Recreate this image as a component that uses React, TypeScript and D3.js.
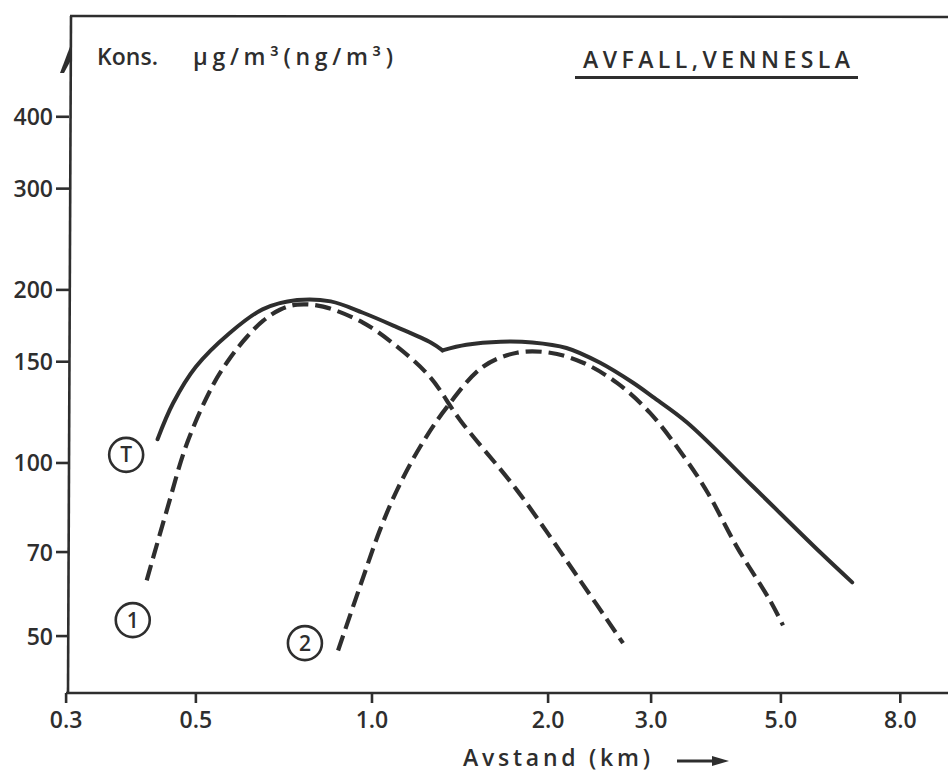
import React from 'react';
import * as d3 from 'd3';

// ---- data (log-log axes) ----
const xTicks = [0.3, 0.5, 1.0, 2.0, 3.0, 5.0, 8.0];
const xTickLabels = ['0.3', '0.5', '1.0', '2.0', '3.0', '5.0', '8.0'];
const yTicks = [50, 70, 100, 150, 200, 300, 400];
const yTickLabels = ['50', '70', '100', '150', '200', '300', '400'];

// Total (T) – solid
const totalX = [0.43, 0.457, 0.50, 0.57, 0.65, 0.745, 0.85, 0.965, 1.10, 1.26, 1.32, 1.45, 1.66, 1.88, 2.15, 2.45, 2.79, 3.02, 3.46, 4.48, 5.83, 6.62];
const totalY = [110, 127, 147, 168, 185, 192, 191, 182.5, 172.5, 162, 157, 160.5, 162.5, 162, 158.5, 149.5, 138, 130.3, 117.5, 91, 70, 62];
const totalKinkIndex = 10;

// Source 1 – dashed
const curve1X = [0.412, 0.446, 0.483, 0.535, 0.572, 0.611, 0.651, 0.696, 0.745, 0.825, 0.965, 1.104, 1.256, 1.414, 1.769, 2.268, 2.686];
const curve1Y = [62.5, 82.8, 108.3, 136.7, 152.2, 165.6, 176.6, 184.7, 188.5, 187, 175.4, 159.3, 141.2, 118.8, 89.7, 62.5, 48.6];

// Source 2 – dashed
const curve2X = [0.875, 0.965, 1.032, 1.104, 1.208, 1.344, 1.548, 1.769, 2.015, 2.295, 2.623, 2.987, 3.428, 3.753, 4.207, 4.789, 5.042];
const curve2Y = [47.2, 63.1, 76.5, 89.8, 106.6, 125.2, 147.0, 155.5, 155.5, 149.4, 137.8, 122.2, 102.0, 88.6, 71.4, 57.7, 52.2];

// circled curve labels
const markLabels = ['T', '1', '2'];
const markX = [0.38, 0.39, 0.768];
const markY = [103.3, 53.3, 48.6];

const titleText = 'AVFALL,VENNESLA';
const yUnitA = 'Kons.';
const yUnitB = 'μg/m³(ng/m³)';
const xTitle = 'Avstand (km)';

const INK = '#2e2e2e';
const FONT = '"Open Sans", "DejaVu Sans", sans-serif';

export default function App() {
  const x = d3.scaleLog().domain([0.3, 10]).range([66.1, 957]);
  const y = d3.scaleLog().domain([40, 420]).range([691.8, 104.6]);

  const mk = (xs: number[], ys: number[]) =>
    d3
      .line<number>()
      .x((_, i) => x(xs[i]))
      .y((_, i) => y(ys[i]))
      .curve(d3.curveCatmullRom.alpha(0.5))(xs.map((_, i) => i)) || '';

  const totA = mk(totalX.slice(0, totalKinkIndex + 1), totalY.slice(0, totalKinkIndex + 1));
  const totB = mk(totalX.slice(totalKinkIndex), totalY.slice(totalKinkIndex));
  const c1 = mk(curve1X, curve1Y);
  const c2 = mk(curve2X, curve2Y);

  const axisX = 69;
  const axisY = 693;
  const fw = 600;

  return (
    <svg
      width={948}
      height={773}
      style={{ position: 'absolute', left: 0, top: 0, background: '#fff' }}
      fontFamily={FONT}
    >
      <rect x={0} y={0} width={948} height={773} fill="#fff" />
      {/* frame: top line, left axis, bottom axis */}
      <line x1={axisX + 1} y1={16} x2={948} y2={17} stroke={INK} strokeWidth={2.6} />
      <line x1={axisX + 2} y1={16} x2={axisX - 1} y2={axisY} stroke={INK} strokeWidth={2.6} />
      <line x1={axisX - 3} y1={axisY} x2={948} y2={axisY} stroke={INK} strokeWidth={2.6} />
      <polygon points={`${axisX + 2},44 ${axisX - 9},73 ${axisX - 5},73 ${axisX + 2},60`} fill={INK} />

      {/* y ticks */}
      {yTicks.map((t, i) => (
        <g key={'y' + t}>
          <line x1={56} x2={axisX} y1={y(t)} y2={y(t)} stroke={INK} strokeWidth={2.6} />
          <text x={53} y={y(t) + 8.5} textAnchor="end" fontSize={23} fontWeight={fw} fill={INK}>
            {yTickLabels[i]}
          </text>
        </g>
      ))}

      {/* x ticks */}
      {xTicks.map((t, i) => (
        <g key={'x' + t}>
          <line x1={x(t)} x2={x(t)} y1={axisY} y2={axisY + 10} stroke={INK} strokeWidth={2.6} />
          <text x={x(t)} y={728} textAnchor="middle" fontSize={23} fontWeight={fw} fill={INK}>
            {xTickLabels[i]}
          </text>
        </g>
      ))}

      {/* texts */}
      <text x={97} y={65} fontSize={23} fontWeight={fw} fill={INK} textLength={61} lengthAdjust="spacing">
        {yUnitA}
      </text>
      <text x={193} y={65} fontSize={23} fontWeight={fw} fill={INK} textLength={200} lengthAdjust="spacing">
        {yUnitB}
      </text>
      <text x={583} y={68} fontSize={23} fontWeight={fw} fill={INK} textLength={267} lengthAdjust="spacing">
        {titleText}
      </text>
      <line x1={575} x2={858} y1={77.5} y2={77.5} stroke={INK} strokeWidth={3} />
      <text x={463} y={766} fontSize={23} fontWeight={fw} fill={INK} textLength={187} lengthAdjust="spacing">
        {xTitle}
      </text>
      <line x1={677} x2={716} y1={761} y2={761} stroke={INK} strokeWidth={3} />
      <polygon points="712,756 729,761 712,766" fill={INK} />

      {/* curves */}
      <path d={totA} fill="none" stroke={INK} strokeWidth={4} strokeLinejoin="round" strokeLinecap="round" />
      <path d={totB} fill="none" stroke={INK} strokeWidth={4} strokeLinejoin="round" strokeLinecap="round" />
      <path d={c1} fill="none" stroke={INK} strokeWidth={4.2} strokeDasharray="16 7" />
      <path d={c2} fill="none" stroke={INK} strokeWidth={4.2} strokeDasharray="16 7" />

      {/* circled labels */}
      {markLabels.map((lab, i) => (
        <g key={'m' + lab}>
          <circle cx={x(markX[i])} cy={y(markY[i])} r={17} fill="none" stroke={INK} strokeWidth={2.6} />
          <text x={x(markX[i])} y={y(markY[i]) + 7.5} textAnchor="middle" fontSize={21} fontWeight={fw} fill={INK}>
            {lab}
          </text>
        </g>
      ))}
    </svg>
  );
}
